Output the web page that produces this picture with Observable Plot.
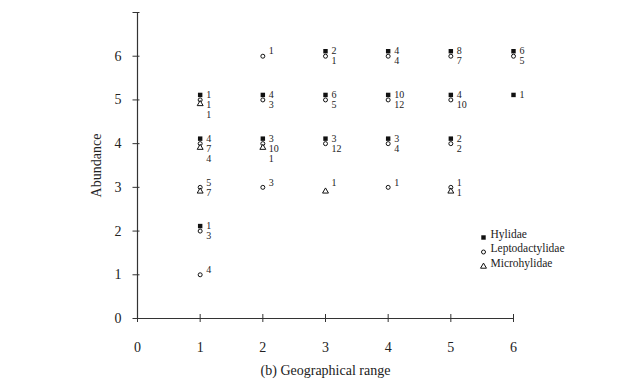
<!DOCTYPE html>
<html><head><meta charset="utf-8">
<script src="https://cdn.jsdelivr.net/npm/d3@7"></script>
<script src="https://cdn.jsdelivr.net/npm/@observablehq/plot@0.6"></script>
<style>
body{margin:0;background:#fff}
svg text{font-family:"Liberation Serif","DejaVu Serif","Times New Roman",serif !important;}
</style>
</head><body><div id="chart"></div>
<script>
const families = ["Hylidae", "Leptodactylidae", "Microhylidae"];

const hylidaeRange     = [1, 1, 1, 2, 2, 3, 3, 3, 4, 4, 4, 5, 5, 5, 6, 6];
const hylidaeAbundance = [5, 4, 2, 5, 4, 6, 5, 4, 6, 5, 4, 6, 5, 4, 6, 5];
const hylidaeCount     = [1, 4, 1, 4, 3, 2, 6, 3, 4, 10, 3, 8, 4, 2, 6, 1];

const leptoRange     = [1, 1, 1, 1, 1, 2, 2, 2, 2, 3, 3, 3, 4, 4, 4, 4, 5, 5, 5, 5, 6];
const leptoAbundance = [5, 4, 3, 2, 1, 6, 5, 4, 3, 6, 5, 4, 6, 5, 4, 3, 6, 5, 4, 3, 6];
const leptoCount     = [1, 7, 5, 3, 4, 1, 3, 10, 3, 1, 5, 12, 4, 12, 4, 1, 7, 10, 2, 1, 5];

const microRange     = [1, 1, 1, 2, 3, 5];
const microAbundance = [5, 4, 3, 4, 3, 3];
const microCount     = [1, 4, 7, 1, 1, 1];

const xTicks = [0, 1, 2, 3, 4, 5, 6];
const yTicks = [0, 1, 2, 3, 4, 5, 6];

function rows(fam, xs, ys, ns) {
  return xs.map((x, i) => ({family: fam, range: x, abundance: ys[i], count: ns[i]}));
}
const data = [
  ...rows(families[0], hylidaeRange, hylidaeAbundance, hylidaeCount),
  ...rows(families[1], leptoRange, leptoAbundance, leptoCount),
  ...rows(families[2], microRange, microAbundance, microCount)
];
// rank of each label inside its (range, abundance) group
const groups = d3.group(data, d => d.range + "|" + d.abundance);
for (const d of data) {
  const g = groups.get(d.range + "|" + d.abundance)
    .slice().sort((a, b) => families.indexOf(a.family) - families.indexOf(b.family));
  d.rank = g.indexOf(d);
}

const symbolStyle = {
  Hylidae: {symbol: "square", fill: "#111", stroke: "none", r: 2.5, dy: -5},
  Leptodactylidae: {symbol: "circle", fill: "white", stroke: "#111", r: 2.0, dy: 0},
  Microhylidae: {symbol: "triangle", fill: "white", stroke: "#111", r: 2.2, dy: 4}
};

const fmt = d3.format("d");
const marks = [
  Plot.ruleX([0], {stroke: "#333", strokeWidth: 1.2}),
  Plot.ruleY([0], {stroke: "#333", strokeWidth: 1.2}),
  Plot.axisY({ticks: [...yTicks, 7], tickSize: 7, dx: 2.5, tickFormat: () => "", label: null, stroke: "#333"}),
  Plot.axisY({ticks: yTicks, tickSize: 0, tickPadding: 16, fontSize: 14, tickFormat: fmt, label: "Abundance",
    labelAnchor: "center", labelOffset: 46, labelArrow: "none", fill: "#222"}),
  Plot.axisX({ticks: xTicks, tickSize: 8, dy: -4, tickFormat: () => "", label: null, stroke: "#333"}),
  Plot.axisX({ticks: xTicks, tickSize: 0, tickPadding: 24, fontSize: 14, tickFormat: fmt, label: "(b) Geographical range",
    labelAnchor: "center", labelOffset: 56, labelArrow: "none", fill: "#222"})
];

for (const f of families) {
  const s = symbolStyle[f];
  marks.push(Plot.dot(data.filter(d => d.family === f), {
    x: "range", y: "abundance", symbol: () => s.symbol, r: s.r, fill: s.fill, stroke: s.stroke,
    strokeWidth: 1, dy: s.dy
  }));
}
for (const rk of [0, 1, 2]) {
  marks.push(Plot.text(data.filter(d => d.rank === rk), {
    x: "range", y: "abundance", text: "count", dx: 6, dy: -5 + 10 * rk,
    textAnchor: "start", fontSize: 10, fill: "#222"
  }));
}
// legend
families.forEach((f, i) => {
  const s = symbolStyle[f];
  marks.push(Plot.dot([f], {frameAnchor: "bottom-right", dx: -30, dy: -81 + 14.5 * i,
    symbol: () => s.symbol, r: s.r, fill: s.fill, stroke: s.stroke, strokeWidth: 1}));
  marks.push(Plot.text([f], {frameAnchor: "bottom-right", dx: -23, dy: -81 + 14.5 * i,
    text: d => d, textAnchor: "start", fontSize: 11.5, fill: "#222"}));
});

const chart = Plot.plot({
  width: 644, height: 381,
  marginLeft: 137, marginRight: 131, marginTop: 12, marginBottom: 63,
  x: {domain: [0, 6]},
  y: {domain: [0, 7]},
  symbol: {type: "identity"},
  style: {fontFamily: "Liberation Serif", background: "white"},
  marks
});
document.getElementById("chart").appendChild(chart);
</script>
</body></html>
